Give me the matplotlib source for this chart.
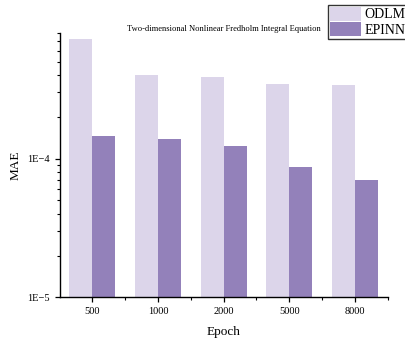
import numpy as np
import matplotlib
matplotlib.use("Agg")
import matplotlib.pyplot as plt
from matplotlib.ticker import LogLocator, FixedLocator, NullFormatter, FuncFormatter

plt.rcParams['font.family'] = ['Liberation Serif', 'DejaVu Serif']

epochs = ['500', '1000', '2000', '5000', '8000']
odlm = [7.3e-4, 3.97e-4, 3.85e-4, 3.45e-4, 3.41e-4]
epinn = [1.46e-4, 1.39e-4, 1.24e-4, 8.7e-5, 7.06e-5]
series_names = ['ODLM', 'EPINN']
colors = ['#DCD5EA', '#9381BA']
baseline = 1e-5

fig = plt.figure(figsize=(4.05, 3.43), dpi=100)
ax = fig.add_axes([0.147, 0.1332, 0.81, 0.77])

x = np.arange(len(epochs))
w = 0.35
b1 = ax.bar(x - w/2, np.array(odlm) - baseline, width=w, color=colors[0], bottom=baseline, label=series_names[0])
b2 = ax.bar(x + w/2, np.array(epinn) - baseline, width=w, color=colors[1], bottom=baseline, label=series_names[1])

ax.set_yscale('log')
ax.set_ylim(1e-5, 8e-4)
ax.set_xlim(-0.5, len(epochs) - 0.5)

ax.yaxis.set_major_locator(FixedLocator([1e-5, 1e-4]))
ax.yaxis.set_major_formatter(FuncFormatter(lambda v, p: '1E\u2212%d' % round(-np.log10(v))))
ax.yaxis.set_minor_locator(LogLocator(base=10, subs=np.arange(2, 10)))
ax.yaxis.set_minor_formatter(NullFormatter())

ax.set_xticks(x)
ax.set_xticklabels(epochs)
ax.xaxis.set_minor_locator(FixedLocator(np.arange(-0.5, len(epochs), 1.0)[1:]))

for s in ['top', 'right']:
    ax.spines[s].set_visible(False)
for s in ['left', 'bottom']:
    ax.spines[s].set_linewidth(1.0)

ax.tick_params(axis='both', which='major', direction='out', length=3.6, width=0.9, labelsize=7.5, pad=3.5)
ax.tick_params(axis='both', which='minor', direction='out', length=2.0, width=0.8)

ax.set_xlabel('Epoch', fontsize=9.5, labelpad=7)
ax.set_ylabel('MAE', fontsize=9.5, labelpad=4)
ax.set_title('Two-dimensional Nonlinear Fredholm Integral Equation', fontsize=6.1, pad=1.5)

leg = fig.legend(handles=[b1, b2], labels=series_names, loc='upper left',
                 bbox_to_anchor=(328/405, 1 - 4.5/343, 100/405, 0.0), mode='expand',
                 fontsize=10,
                 frameon=True, fancybox=False, edgecolor='black',
                 handlelength=2.2, handleheight=1.2, handletextpad=0.25,
                 labelspacing=0.05, borderpad=0.15, borderaxespad=0)
leg.get_frame().set_linewidth(1.0)

fig.savefig('out.png', dpi=100)
